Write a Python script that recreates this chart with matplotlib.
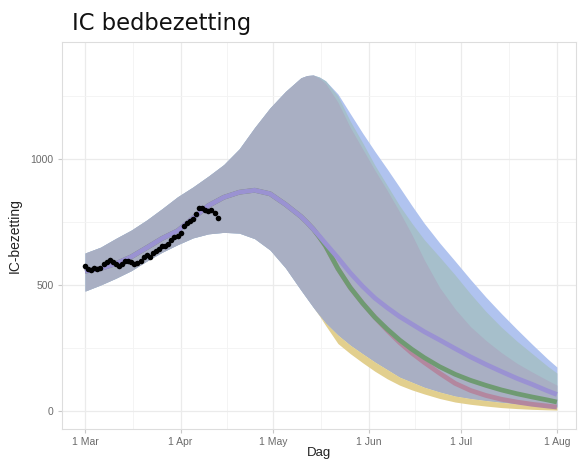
import matplotlib.pyplot as plt
import numpy as np
import pandas as pd

# dagen sinds 1 maart 2021
start = pd.Timestamp('2021-03-01')

band_days = [0, 5, 10, 15, 20, 25, 30, 35, 40, 45, 50, 55, 60, 65, 70, 72, 74, 76, 78, 82, 86, 90,
             94, 98, 102, 106, 110, 115, 120, 125, 130, 135, 140, 145, 150, 153]

# bovengrenzen van de scenario-banden
hi_blue = [627, 650, 685, 718, 758, 803, 850, 889, 932, 978, 1040, 1125, 1203, 1268, 1322, 1331, 1333, 1325,
           1310, 1258, 1180, 1103, 1030, 960, 888, 815, 745, 667, 595, 522, 452, 387, 325, 265, 207, 175]
hi_teal = [627, 650, 685, 718, 758, 803, 850, 889, 932, 978, 1040, 1125, 1203, 1268, 1322, 1331, 1333, 1325,
           1310, 1250, 1150, 1065, 975, 895, 815, 745, 680, 611, 540, 465, 395, 333, 278, 228, 178, 151]
hi_core = [627, 650, 685, 718, 758, 803, 850, 889, 932, 978, 1040, 1125, 1203, 1268, 1322, 1331, 1333, 1320,
           1300, 1225, 1125, 1040, 955, 875, 790, 700, 600, 490, 405, 335, 280, 232, 190, 155, 122, 103]

# ondergrenzen
lo_core = [476, 500, 527, 557, 595, 630, 660, 687, 703, 709, 706, 684, 639, 568, 480, 446, 412, 380, 350,
           302, 262, 228, 195, 165, 135, 115, 95, 76, 60, 50, 42, 35, 29, 24, 19, 16]
lo_yellow = [476, 500, 527, 557, 595, 630, 660, 687, 703, 709, 706, 684, 639, 568, 480, 446, 412, 378, 340,
             268, 228, 192, 158, 128, 103, 84, 68, 50, 36, 27, 20, 14, 10, 7, 5, 4]

# mediaan per scenario
med_purple = [555, 565, 585, 612, 648, 685, 715, 765, 815, 848, 868, 876, 862, 820, 772, 748, 722, 694, 665,
              608, 548, 495, 448, 410, 375, 345, 315, 282, 248, 215, 185, 157, 130, 106, 80, 66]
med_green = [555, 565, 585, 612, 648, 685, 715, 765, 815, 848, 868, 876, 862, 820, 772, 748, 722, 690, 655,
             565, 490, 428, 372, 325, 282, 245, 212, 176, 146, 122, 102, 84, 69, 56, 44, 36]
med_pink = [555, 565, 585, 612, 648, 685, 715, 765, 815, 848, 868, 876, 862, 820, 772, 748, 722, 690, 655,
            565, 490, 428, 372, 320, 272, 230, 193, 150, 110, 82, 62, 47, 36, 27, 20, 16]

# waargenomen IC-bezetting
obs_values = [577, 563, 560, 566, 563, 568, 585, 592, 599, 592, 583, 577, 583, 597, 597, 590, 584,
              586, 595, 610, 619, 612, 628, 634, 644, 653, 656, 664, 680, 690, 693, 705, 735, 745,
              754, 762, 780, 804, 807, 798, 795, 797, 786, 765]
obs_days = list(range(len(obs_values)))

month_starts = ['2021-03-01', '2021-04-01', '2021-05-01', '2021-06-01', '2021-07-01', '2021-08-01']
month_labels = ['1 Mar', '1 Apr', '1 May', '1 Jun', '1 Jul', '1 Aug']
y_ticks = [0, 500, 1000]


def to_dates(days):
    return start + pd.to_timedelta(days, unit='D')


x = to_dates(band_days)

fig = plt.figure(figsize=(5.79, 4.63), dpi=100)
ax = fig.add_axes([62 / 579, 1 - 429 / 463, 514 / 579, 387 / 463])

ax.fill_between(x, lo_core, hi_blue, color='#B0C3EF', lw=0, zorder=2)
ax.fill_between(x, lo_core, hi_teal, color='#A6BFCB', lw=0, zorder=3)
ax.fill_between(x, lo_core, hi_core, color='#A9AFC3', lw=0, zorder=4)
ax.fill_between(x, lo_yellow, lo_core, color='#E2CF8E', lw=0, zorder=4)

ax.plot(x, med_pink, color='#B3879F', lw=3.4, zorder=5, solid_capstyle='butt')
ax.plot(x, med_green, color='#6F9A72', lw=3.4, zorder=6, solid_capstyle='butt')
ax.plot(x, med_purple, color='#9A92D2', lw=3.4, zorder=7, solid_capstyle='butt')

ax.scatter(to_dates(obs_days), obs_values, s=16, color='black', zorder=8, lw=0)

# assen
ax.set_xlim(start + pd.Timedelta(days=-7.46), start + pd.Timedelta(days=159.2))
ax.set_ylim(-71, 1464)

major_x = pd.to_datetime(month_starts)
ax.set_xticks(major_x)
ax.set_xticklabels(month_labels)
ax.set_xticks(major_x[:-1] + (major_x[1:] - major_x[:-1]) / 2, minor=True)
ax.set_yticks(y_ticks)
ax.set_yticks([250, 750, 1250], minor=True)

ax.grid(which='major', color='#EBEBEB', lw=0.9, zorder=0)
ax.grid(which='minor', color='#F3F3F3', lw=0.6, zorder=0)
ax.set_axisbelow(True)
for s in ax.spines.values():
    s.set_color('#DDDDDD')
    s.set_linewidth(0.8)

ax.tick_params(which='major', length=3, color='#C8C8C8', labelsize=7.5, labelcolor='#6A6A6A',
               labelfontfamily='Liberation Sans', pad=3)
ax.tick_params(which='minor', length=0)

ax.set_xlabel('Dag', fontsize=9.5, family='Liberation Sans', color='#222222', labelpad=0)
ax.set_ylabel('IC-bezetting', fontsize=10, family='Liberation Sans', color='#222222', labelpad=6)

fig.text(72 / 579, 1 - 30 / 463, 'IC bedbezetting', fontsize=16.3, family='DejaVu Sans',
         color='#111111', va='baseline', ha='left')

fig.savefig('out.png', dpi=100)
